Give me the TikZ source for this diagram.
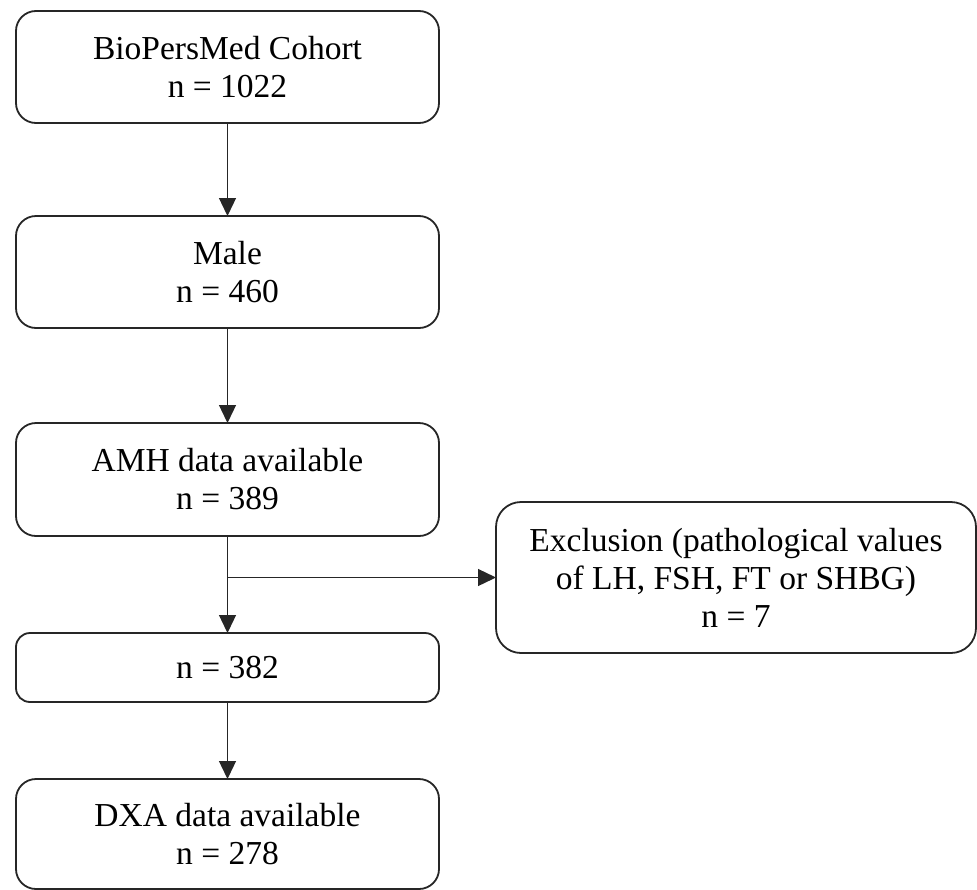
\documentclass[tikz,border=0pt]{standalone}
\usepackage{fontspec}
\setmainfont{Liberation Serif}
\usetikzlibrary{arrows.meta}

\tikzset{
  flowbox/.style={draw=black!85, line width=1.8pt, rounded corners=20pt,
    fill=white, align=center, inner sep=0pt, outer sep=0pt,
    font=\fontsize{33.5}{38}\selectfont},
  flowarrow/.style={draw=black!85, line width=1.3pt,
    -{Triangle[length=18pt,width=17pt]}},
}

\begin{document}
\begin{tikzpicture}[x=1pt, y=-1pt]
  \useasboundingbox (0,0) rectangle (977,889);

  % main column of boxes
  \node[flowbox, minimum width=423pt, minimum height=112pt] (cohort) at (227.5,67)
    {BioPersMed Cohort\\n = 1022};
  \node[flowbox, minimum width=423pt, minimum height=112pt] (male) at (227.5,272)
    {Male\\n = 460};
  \node[flowbox, minimum width=423pt, minimum height=113pt] (amh) at (227.5,479.5)
    {AMH data available\\n = 389};
  \node[flowbox, rounded corners=14pt, minimum width=423pt, minimum height=69pt] (kept) at (227.5,667.5)
    {n = 382};
  \node[flowbox, minimum width=423pt, minimum height=110pt] (dxa) at (227.5,834)
    {DXA data available\\n = 278};

  % side box for the excluded participants
  \node[flowbox, rounded corners=25pt, minimum width=480pt, minimum height=151pt] (excl) at (736,577.5)
    {Exclusion (pathological values\\of LH, FSH, FT or SHBG)\\n = 7};

  % connectors
  \draw[flowarrow] (cohort) -- (male);
  \draw[flowarrow] (male) -- (amh);
  \draw[flowarrow] (amh) -- (kept);
  \draw[flowarrow] (kept) -- (dxa);
  \coordinate (split) at (amh.south |- excl.west);
  \draw[flowarrow] (split) -- (excl.west);
\end{tikzpicture}
\end{document}
